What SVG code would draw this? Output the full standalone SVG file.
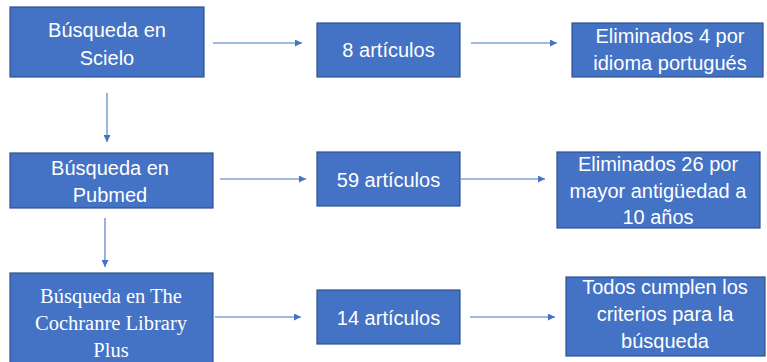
<svg xmlns="http://www.w3.org/2000/svg" width="767" height="362" viewBox="0 0 767 362">
<defs>
<marker id="ah" viewBox="0 0 10 10" refX="10" refY="5" markerWidth="7" markerHeight="7" markerUnits="userSpaceOnUse" orient="auto">
<path d="M0,0 L10,5 L0,10 z" fill="#4472C4"/>
</marker>
<style>
.box{fill:#4472C4;stroke:#2F528F;stroke-width:1.2}
.t{fill:#ffffff;font-family:"Liberation Sans",Arial,sans-serif;font-size:20px;text-anchor:middle}
.s{fill:#ffffff;font-family:"Liberation Serif","Times New Roman",serif;font-size:20.5px;text-anchor:middle}
.c{stroke:#4472C4;stroke-width:1.1;fill:none;marker-end:url(#ah)}
</style>
</defs>
<rect width="767" height="362" fill="#ffffff"/>
<g id="connectors">
<line class="c" x1="213" y1="43" x2="302" y2="43"/>
<line class="c" x1="471" y1="43" x2="557" y2="43"/>
<line class="c" x1="107" y1="93" x2="107" y2="142"/>
<line class="c" x1="220" y1="179" x2="306" y2="179"/>
<line class="c" x1="461" y1="179" x2="545" y2="179"/>
<line class="c" x1="105" y1="218" x2="105" y2="267"/>
<line class="c" x1="215" y1="317" x2="301" y2="317"/>
<line class="c" x1="470" y1="317" x2="555" y2="317"/>
</g>
<g id="scielo">
<rect class="box" x="10" y="7" width="194" height="70"/>
<text class="t" x="107" y="37">Búsqueda en</text>
<text class="t" x="107" y="65">Scielo</text>
</g>
<g id="art8">
<rect class="box" x="317" y="23" width="143" height="54"/>
<text class="t" x="388.5" y="57">8 artículos</text>
</g>
<g id="elim4">
<rect class="box" x="572" y="23" width="191" height="54"/>
<text class="t" x="670" y="43">Eliminados 4 por</text>
<text class="t" x="670" y="70">idioma portugués</text>
</g>
<g id="pubmed">
<rect class="box" x="10" y="153" width="203" height="55"/>
<text class="t" x="110" y="175">Búsqueda en</text>
<text class="t" x="110" y="202">Pubmed</text>
</g>
<g id="art59">
<rect class="box" x="317" y="152" width="143" height="54"/>
<text class="t" x="388.5" y="187">59 artículos</text>
</g>
<g id="elim26">
<rect class="box" x="557" y="152" width="203" height="76"/>
<text class="t" x="658" y="171">Eliminados 26 por</text>
<text class="t" x="658" y="198">mayor antigüedad a</text>
<text class="t" x="658" y="224">10 años</text>
</g>
<g id="cochrane">
<rect class="box" x="10" y="273" width="203" height="95"/>
<text class="s" x="111" y="303">Búsqueda en The</text>
<text class="s" x="111" y="330">Cochranre Library</text>
<text class="s" x="111" y="357">Plus</text>
</g>
<g id="art14">
<rect class="box" x="317" y="290" width="143" height="54"/>
<text class="t" x="388.5" y="325">14 artículos</text>
</g>
<g id="todos">
<rect class="box" x="566" y="277" width="199" height="79"/>
<text class="t" x="665" y="294">Todos cumplen los</text>
<text class="t" x="665" y="321">criterios para la</text>
<text class="t" x="665" y="348">búsqueda</text>
</g>
</svg>
